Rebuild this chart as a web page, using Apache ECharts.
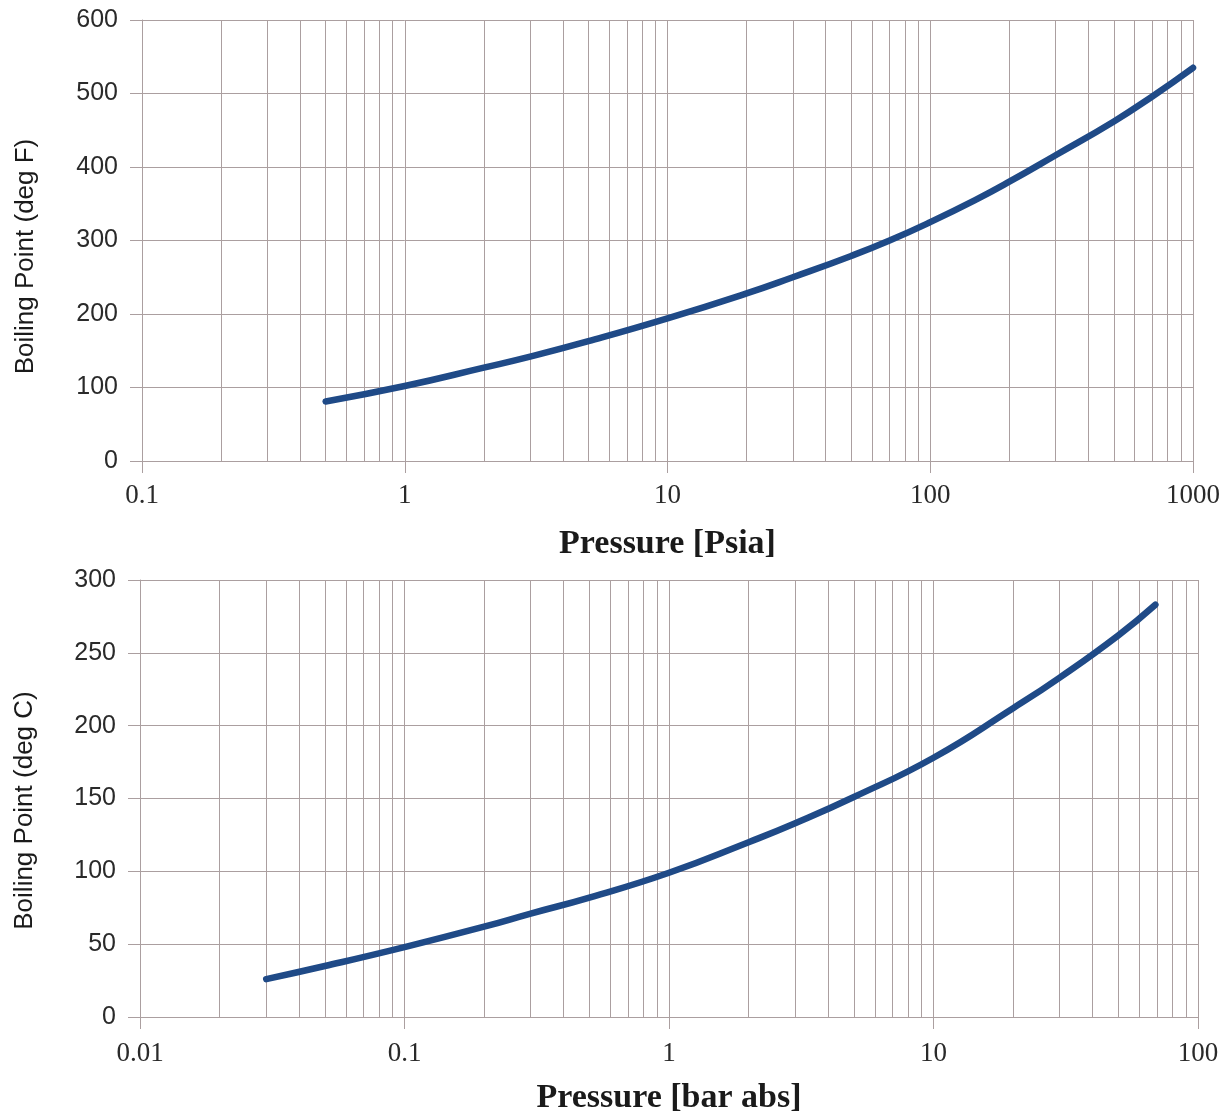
<!DOCTYPE html>
<html>
<head>
<meta charset="utf-8">
<script src="https://cdn.jsdelivr.net/npm/echarts@6/dist/echarts.min.js"></script>
<style>
html,body{margin:0;padding:0;background:#fff;}
#c{width:1227px;height:1117px;}
</style>
</head>
<body>
<div id="c"></div>
<script>
// Top chart: pressure (psia) vs boiling point (deg F)
var psia = [0.5, 1, 2, 3, 5, 10, 20, 30, 50, 70, 100, 150, 200, 300, 500, 700, 1000];
var degF = [81, 102, 127, 142, 163, 194, 228, 250, 279, 300, 325, 356, 380, 416, 462, 496, 535];
// Bottom chart: pressure (bar abs) vs boiling point (deg C)
var barAbs = [0.03, 0.05, 0.1, 0.2, 0.3, 0.5, 1, 2, 3, 5, 10, 20, 30, 50, 69];
var degC = [26, 35, 48, 62, 71, 82, 99, 120, 133, 151, 178, 212, 233, 262, 283];

var topXLabel = 'Pressure [Psia]';
var topYLabel = 'Boiling Point (deg F)';
var botXLabel = 'Pressure [bar abs]';
var botYLabel = 'Boiling Point (deg C)';

var gridColor = '#ab9fa0';
var curveColor = '#1f4a87';

function minorValues(lo, hi) {
  var out = [];
  for (var d = lo; d < hi * 0.999; d *= 10) {
    for (var k = 2; k <= 9; k++) out.push(+(d * k).toPrecision(6));
  }
  return out;
}

function pairs(xs, ys) { return xs.map(function (x, i) { return [x, ys[i]]; }); }

var chart = echarts.init(document.getElementById('c'), null, {renderer: 'canvas'});

function xAxisCfg(gi, min, max, name, gap, lm) {
  return {
    gridIndex: gi, type: 'log', logBase: 10, min: min, max: max,
    name: name, nameLocation: 'middle', nameGap: gap,
    nameTextStyle: {fontFamily: 'Liberation Serif', fontWeight: 'bold', fontSize: 34, color: '#1a1a1a'},
    axisLine: {show: true, lineStyle: {color: gridColor, width: 1}},
    axisTick: {show: true, length: 12, lineStyle: {color: gridColor}},
    axisLabel: {margin: lm, fontFamily: 'Liberation Serif', fontSize: 27, color: '#2a2a2a',
      formatter: function (v) { return String(+v.toPrecision(6)); }},
    splitLine: {show: true, lineStyle: {color: gridColor, width: 1}},
    minorTick: {show: false}, minorSplitLine: {show: false}
  };
}
function yAxisCfg(gi, max, interval, name, gap, shift) {
  return {
    gridIndex: gi, type: 'value', min: 0, max: max, interval: interval,
    name: name, nameLocation: 'middle', nameGap: gap,
    nameTextStyle: {fontFamily: 'Liberation Sans', fontSize: 26, color: '#1a1a1a', padding: [0, shift, 0, 0]},
    axisLine: {show: true, lineStyle: {color: gridColor, width: 1}},
    axisTick: {show: true, length: 12, lineStyle: {color: gridColor}},
    axisLabel: {margin: 24, fontFamily: 'Liberation Sans', fontSize: 25, color: '#2a2a2a'},
    splitLine: {show: true, lineStyle: {color: gridColor, width: 1}}
  };
}
function gridLinesSeries(xi, lo, hi) {
  return {
    type: 'line', xAxisIndex: xi, yAxisIndex: xi, data: [], z: 1, silent: true,
    markLine: {
      silent: true, symbol: ['none', 'none'], animation: false,
      label: {show: false},
      lineStyle: {color: gridColor, width: 1, type: 'solid'},
      emphasis: {disabled: true},
      data: minorValues(lo, hi).map(function (v) { return {xAxis: v}; })
    }
  };
}
function curveSeries(xi, data) {
  return {
    type: 'line', xAxisIndex: xi, yAxisIndex: xi, data: data, z: 5,
    smooth: true, showSymbol: false, symbol: 'none',
    lineStyle: {color: curveColor, width: 6.5, cap: 'round'}
  };
}

chart.setOption({
  animation: false,
  backgroundColor: '#ffffff',
  grid: [
    {left: 142, right: 34, top: 20, bottom: 656},
    {left: 140, right: 29, top: 580, bottom: 100}
  ],
  xAxis: [
    xAxisCfg(0, 0.1, 1000, topXLabel, 66, 21),
    xAxisCfg(1, 0.01, 100, botXLabel, 64, 23)
  ],
  yAxis: [
    yAxisCfg(0, 600, 100, topYLabel, 103, 32),
    yAxisCfg(1, 300, 50, botYLabel, 102, 24)
  ],
  series: [
    gridLinesSeries(0, 0.1, 1000),
    gridLinesSeries(1, 0.01, 100),
    curveSeries(0, pairs(psia, degF)),
    curveSeries(1, pairs(barAbs, degC))
  ]
});
</script>
</body>
</html>
